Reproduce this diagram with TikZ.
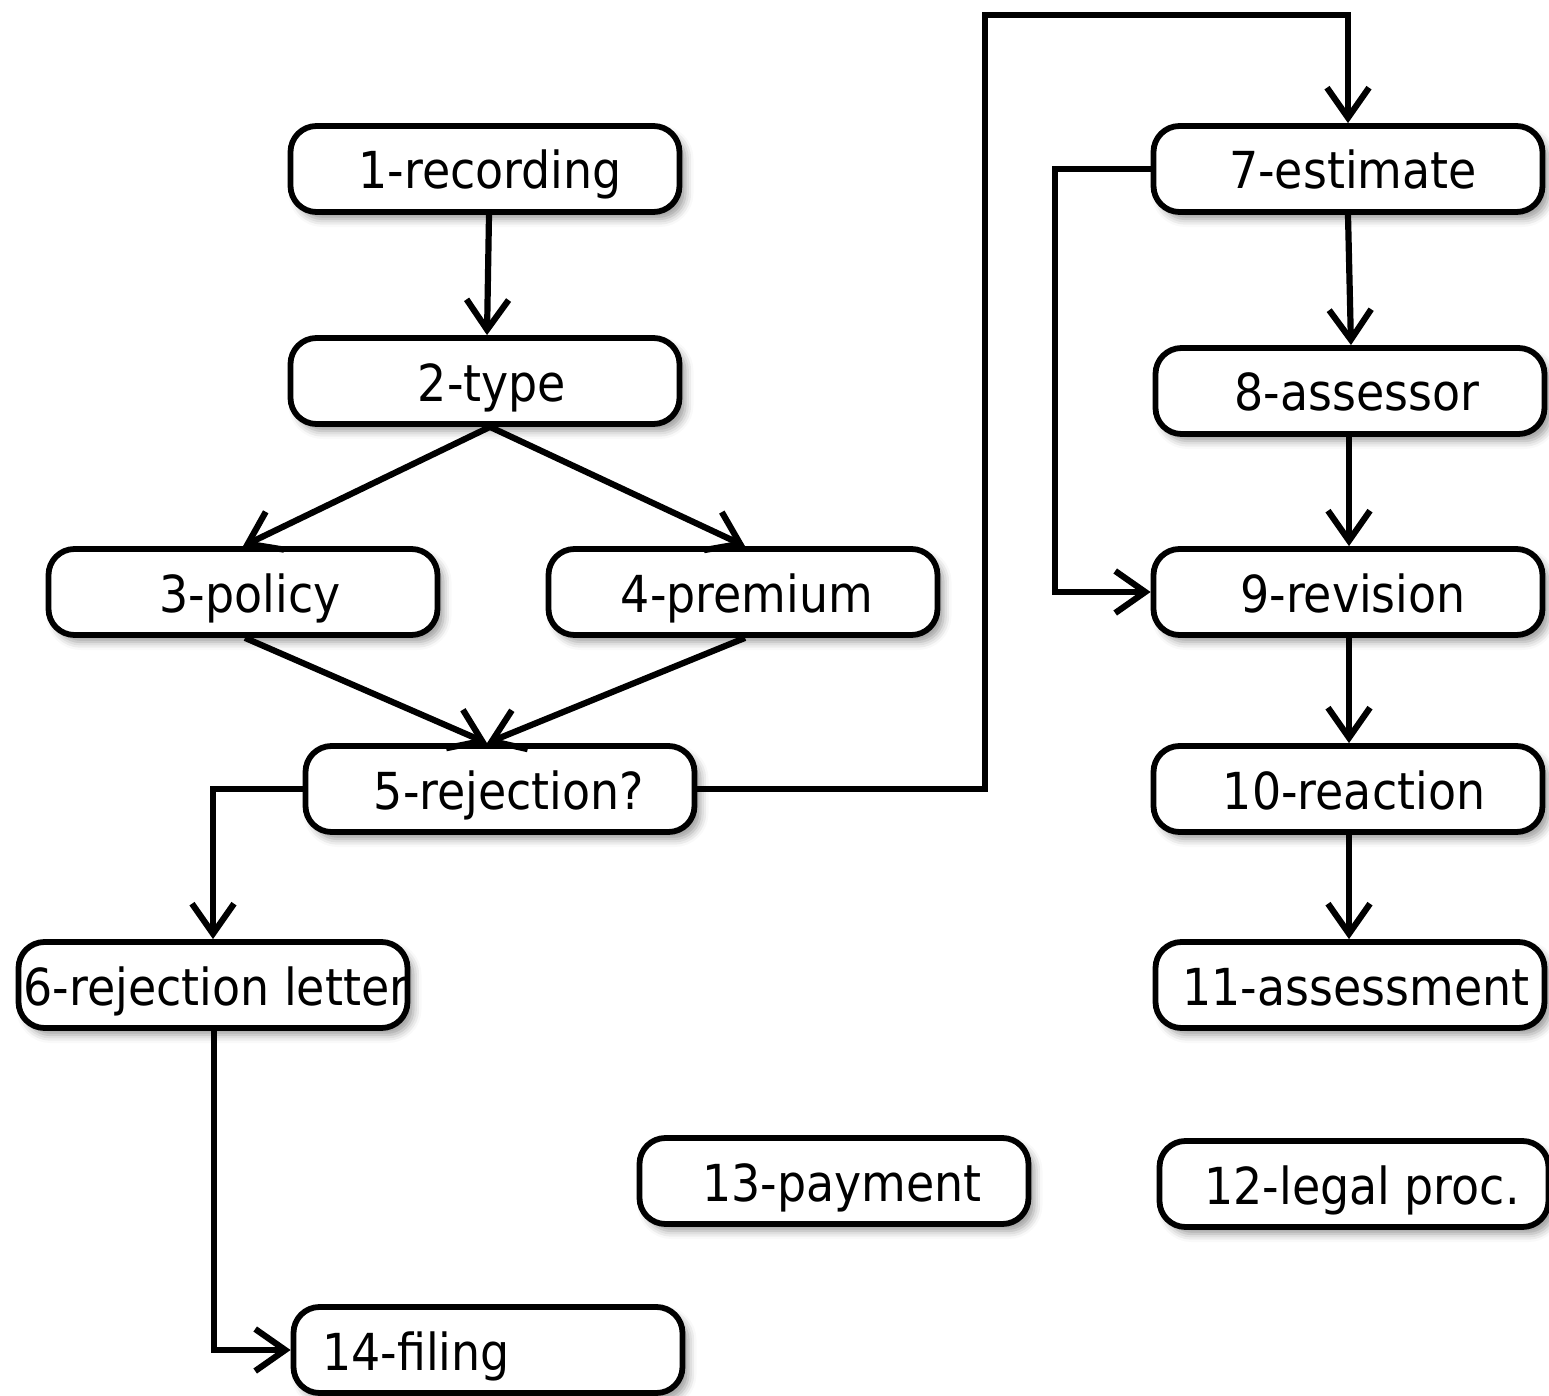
\documentclass[tikz,border=0pt]{standalone}
\usepackage{fontspec}
\setmainfont{DejaVu Sans Condensed}
\usetikzlibrary{arrows.meta,shadows.blur}

% label inside a box: fixed baseline, horizontal offset #1 (in px units), no effect on box size
\newcommand{\cellText}[2]{\raisebox{-10pt}[0pt][0pt]{\makebox[0pt]{\hspace*{#1pt}#2}}}

\tikzset{
  stagebox/.style={draw, line width=2.9pt, rounded corners=13pt,
    minimum width=194.5pt, minimum height=43pt, inner sep=0pt, fill=white,
    font=\fontsize{25.5}{30}\selectfont,
    blur shadow={shadow xshift=3pt, shadow yshift=-3.5pt,
      shadow blur radius=4pt, shadow opacity=40}},
  flow/.style={line width=3.1pt, -{Straight Barb[length=15pt,width=21pt]}},
}

\begin{document}
\begin{tikzpicture}[x=0.5pt,y=-0.5pt]
\useasboundingbox (0,0) rectangle (1549,1396);

% left column
\node[stagebox] (n1) at (485,169) {\cellText{5}{1-recording}};
\node[stagebox] (n2) at (485,381) {\cellText{7}{2-type}};
\node[stagebox] (n3) at (243,592) {\cellText{7}{3-policy}};
\node[stagebox] (n4) at (743,592) {\cellText{4}{4-premium}};
\node[stagebox] (n5) at (500,789) {\cellText{9}{5-rejection?}};
\node[stagebox] (n6) at (213,985) {\cellText{3}{6-rejection letter}};
\node[stagebox] (n14) at (488,1350) {\cellText{-72}{14-filing}};
\node[stagebox] (n13) at (834,1181) {\cellText{8}{13-payment}};

% right column
\node[stagebox] (n7) at (1348,169) {\cellText{5}{7-estimate}};
\node[stagebox] (n8) at (1350,391) {\cellText{7}{8-assessor}};
\node[stagebox] (n9) at (1348,592) {\cellText{5}{9-revision}};
\node[stagebox] (n10) at (1348,789) {\cellText{6}{10-reaction}};
\node[stagebox] (n11) at (1350,985) {\cellText{6}{11-assessment}};
\node[stagebox] (n12) at (1354,1184) {\cellText{8}{12-legal proc.}};

% connectors
\draw[flow] ([xshift=2pt]n1.south) -- ([xshift=1pt]n2.north);
\draw[flow] ([xshift=2.5pt]n2.south) -- (n3.north);
\draw[flow] ([xshift=2.5pt]n2.south) -- ([xshift=1pt]n4.north);
\draw[flow] ([xshift=1pt]n3.south) -- ([xshift=-6.5pt]n5.north);
\draw[flow] ([xshift=1pt]n4.south) -- ([xshift=-6.5pt]n5.north);
\draw[flow] (n5.west) -| (n6.north);
\draw[flow] (n5.east) -| (985,15) -| (n7.north);
\draw[flow] (n7.west) -| (1055,400) |- (n9.west);
\draw[flow] (n7.south) -- ([xshift=0.5pt]n8.north);
\draw[flow] ([xshift=-0.5pt]n8.south) -- ([xshift=0.5pt]n9.north);
\draw[flow] ([xshift=0.5pt]n9.south) -- ([xshift=0.5pt]n10.north);
\draw[flow] ([xshift=0.5pt]n10.south) -- ([xshift=-0.5pt]n11.north);
\draw[flow] ([xshift=0.5pt]n6.south) |- (n14.west);
\end{tikzpicture}
\end{document}
